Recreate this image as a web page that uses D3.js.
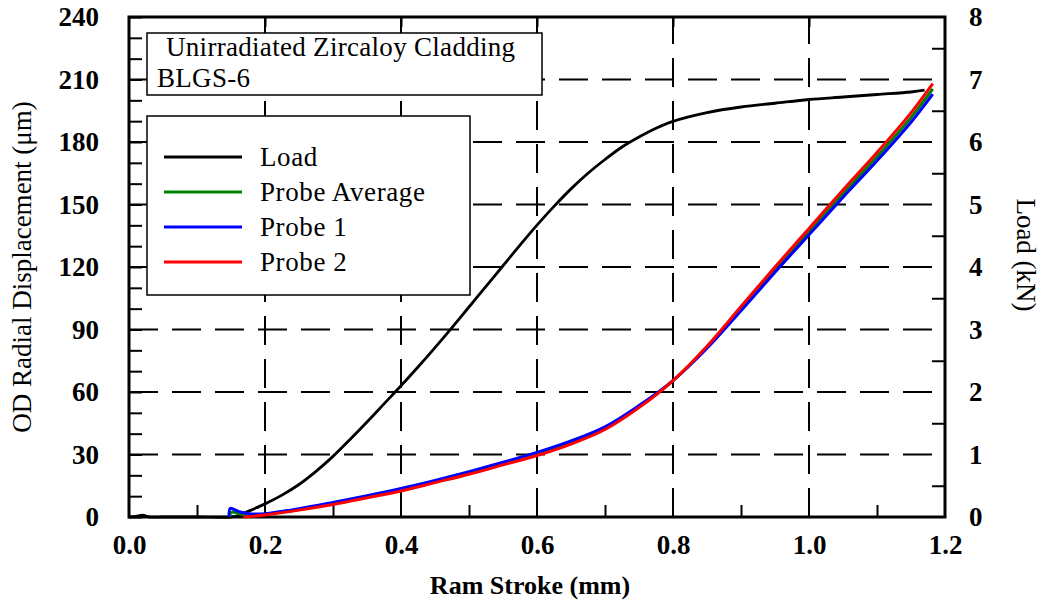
<!DOCTYPE html>
<html>
<head>
<meta charset="utf-8">
<script src="https://cdn.jsdelivr.net/npm/d3@7"></script>
<style>
  html, body { margin: 0; padding: 0; background: #fff; }
  svg { display: block; font-family: "Liberation Serif", "Times New Roman", serif; }
</style>
</head>
<body>
<svg id="chart" width="1041" height="605"></svg>
<script>
// ---- Data ----
const xTicks = [0.0, 0.2, 0.4, 0.6, 0.8, 1.0, 1.2];
const yTicks = [0, 30, 60, 90, 120, 150, 180, 210, 240];
const yRightTicks = [0, 1, 2, 3, 4, 5, 6, 7, 8];

const loadX  = [0, 0.01, 0.02, 0.03, 0.05, 0.1, 0.15, 0.16, 0.173, 0.2, 0.225, 0.25, 0.275, 0.3, 0.325, 0.35, 0.375, 0.4, 0.425, 0.45, 0.475, 0.5, 0.525, 0.55, 0.575, 0.6, 0.625, 0.65, 0.675, 0.7, 0.725, 0.75, 0.775, 0.8, 0.85, 0.9, 0.95, 1.0, 1.05, 1.1, 1.15, 1.17];
const loadKN = [0, 0.01, 0.03, 0, 0, 0, 0.0, 0.02, 0.08, 0.21, 0.35, 0.52, 0.73, 0.97, 1.24, 1.52, 1.81, 2.1, 2.4, 2.71, 3.03, 3.36, 3.69, 4.02, 4.35, 4.67, 4.97, 5.25, 5.5, 5.72, 5.92, 6.08, 6.22, 6.33, 6.47, 6.56, 6.62, 6.68, 6.72, 6.76, 6.8, 6.83];

const avgX = [0.148, 0.15, 0.16, 0.17, 0.18, 0.2, 0.25, 0.3, 0.35, 0.4, 0.45, 0.5, 0.55, 0.6, 0.65, 0.7, 0.75, 0.8, 0.85, 0.9, 0.95, 1.0, 1.05, 1.1, 1.15, 1.182];
const avgY = [0, 2.2, 1.8, 1.0, 0.9, 1.3, 3.6, 6.5, 9.7, 13.1, 17.0, 21.1, 25.6, 30.2, 35.7, 42.6, 53.0, 65.5, 81.5, 100.0, 118.8, 137.0, 155.2, 173.0, 191.7, 205.5];

const p1X = [0.147, 0.149, 0.155, 0.165, 0.18, 0.2, 0.25, 0.3, 0.35, 0.4, 0.45, 0.5, 0.55, 0.6, 0.65, 0.7, 0.75, 0.8, 0.85, 0.9, 0.95, 1.0, 1.05, 1.1, 1.15, 1.182];
const p1Y = [0, 4.2, 3.5, 2.3, 1.5, 1.6, 4.0, 7.0, 10.2, 13.7, 17.6, 21.8, 26.3, 31.0, 36.5, 43.3, 53.5, 65.5, 81.0, 99.0, 117.5, 135.5, 153.5, 171.0, 189.5, 203.0];

const p2X = [0.168, 0.18, 0.2, 0.25, 0.3, 0.35, 0.4, 0.45, 0.5, 0.55, 0.6, 0.65, 0.7, 0.75, 0.8, 0.85, 0.9, 0.95, 1.0, 1.05, 1.1, 1.15, 1.182];
const p2Y = [0, 0.3, 1.0, 3.3, 6.0, 9.2, 12.5, 16.5, 20.5, 25.0, 29.5, 35.0, 42.0, 52.5, 65.5, 82.0, 101.0, 120.0, 138.5, 157.0, 175.0, 194.0, 208.0];

const legendNames = ["Load", "Probe Average", "Probe 1", "Probe 2"];
const legendColors = ["#000000", "#008000", "#0000ff", "#ff0000"];
const boxLines = ["Unirradiated Zircaloy Cladding", "BLGS-6"];

// ---- Layout ----
const svg = d3.select("#chart");
const L = 129, R = 945, T = 17, B = 517;
const x = d3.scaleLinear().domain([0, 1.2]).range([L, R]);
const y = d3.scaleLinear().domain([0, 240]).range([B, T]);
const yR = d3.scaleLinear().domain([0, 8]).range([B, T]);

// grid
const grid = svg.append("g").attr("stroke", "#000").attr("stroke-width", 2).attr("stroke-dasharray", "29,14").attr("fill", "none");
xTicks.slice(1, -1).forEach(v => {
  grid.append("line").attr("x1", x(v)).attr("x2", x(v)).attr("y1", B).attr("y2", T);
});
yTicks.slice(1, -1).forEach(v => {
  grid.append("line").attr("x1", L).attr("x2", R).attr("y1", y(v)).attr("y2", y(v));
});

// axes (ticks inward)
const tickLen = 13;
const axB = svg.append("g").attr("transform", `translate(0,${B})`)
  .call(d3.axisBottom(x).tickValues(d3.range(1, 12, 2).map(d => d / 10)).tickSizeInner(-12).tickSizeOuter(0).tickFormat(""));
const axBL = svg.append("g").attr("transform", `translate(0,${B})`)
  .call(d3.axisBottom(x).tickValues(xTicks).tickSize(0).tickPadding(18).tickFormat(d3.format(".1f")));
const axL = svg.append("g").attr("transform", `translate(${L},0)`)
  .call(d3.axisLeft(y).tickValues(d3.range(0, 241, 10)).tickSizeInner(-tickLen).tickSizeOuter(0).tickFormat(""));
const axLL = svg.append("g").attr("transform", `translate(${L},0)`)
  .call(d3.axisLeft(y).tickValues(yTicks).tickSize(0).tickPadding(30));
const axR = svg.append("g").attr("transform", `translate(${R},0)`)
  .call(d3.axisRight(yR).tickValues(d3.range(0.5, 8, 1)).tickSizeInner(-tickLen).tickSizeOuter(0).tickFormat(""));
const axRL = svg.append("g").attr("transform", `translate(${R},0)`)
  .call(d3.axisRight(yR).tickValues(yRightTicks).tickSize(0).tickPadding(24));
const axT = svg.append("g").attr("transform", `translate(0,${T})`)
  .call(d3.axisTop(x).tickValues(xTicks.slice(1, -1)).tickSizeInner(-10).tickSizeOuter(0).tickFormat(""));

[axB, axBL, axL, axLL, axR, axRL, axT].forEach(a => {
  a.select(".domain").remove();
  a.selectAll(".tick line").attr("stroke", "#000").attr("stroke-width", 2);
  a.selectAll(".tick text").attr("fill", "#000").attr("font-family", "Liberation Serif").attr("font-weight", "bold").attr("font-size", 27);
});

// frame
svg.append("rect").attr("x", L).attr("y", T).attr("width", R - L).attr("height", B - T)
  .attr("fill", "none").attr("stroke", "#000").attr("stroke-width", 3);

// info box
svg.append("rect").attr("x", 147).attr("y", 33).attr("width", 395).attr("height", 62)
  .attr("fill", "#fff").attr("stroke", "#000").attr("stroke-width", 1.5);
svg.append("text").attr("x", 166).attr("y", 56).attr("font-size", 27).attr("letter-spacing", 0.3).text(boxLines[0]);
svg.append("text").attr("x", 157).attr("y", 87).attr("font-size", 27).attr("letter-spacing", 0.3).text(boxLines[1]);

// legend
svg.append("rect").attr("x", 147).attr("y", 116).attr("width", 323).attr("height", 179)
  .attr("fill", "#fff").attr("stroke", "#000").attr("stroke-width", 1.5);
legendNames.forEach((n, i) => {
  const yy = 157 + i * 35;
  svg.append("line").attr("x1", 164).attr("x2", 242).attr("y1", yy).attr("y2", yy)
    .attr("stroke", legendColors[i]).attr("stroke-width", 3);
  svg.append("text").attr("x", 260).attr("y", yy + 9).attr("font-size", 27).attr("letter-spacing", 0.6).text(n);
});

// curves
const mk = (xs, ys, sc) => xs.map((v, i) => [x(v), sc(ys[i])]);
const line = d3.line().curve(d3.curveCatmullRom.alpha(0.5));
const series = [
  { pts: mk(loadX, loadKN, yR), c: legendColors[0], w: 2.8 },
  { pts: mk(avgX, avgY, y), c: legendColors[1], w: 3 },
  { pts: mk(p1X, p1Y, y), c: legendColors[2], w: 3 },
  { pts: mk(p2X, p2Y, y), c: legendColors[3], w: 3 }
];
series.forEach(s => {
  svg.append("path").attr("d", line(s.pts)).attr("fill", "none")
    .attr("stroke", s.c).attr("stroke-width", s.w).attr("stroke-linejoin", "round");
});

// axis titles
svg.append("text").attr("x", 530).attr("y", 594).attr("text-anchor", "middle")
  .attr("font-size", 26).attr("font-weight", "bold").text("Ram Stroke (mm)");
svg.append("text").attr("transform", `translate(31,267) rotate(-90)`).attr("text-anchor", "middle")
  .attr("font-size", 27).text("OD Radial Displacement (\u03bcm)");
svg.append("text").attr("transform", `translate(1017,255) rotate(90)`).attr("text-anchor", "middle")
  .attr("font-size", 27).text("Load (kN)");
</script>
</body>
</html>
